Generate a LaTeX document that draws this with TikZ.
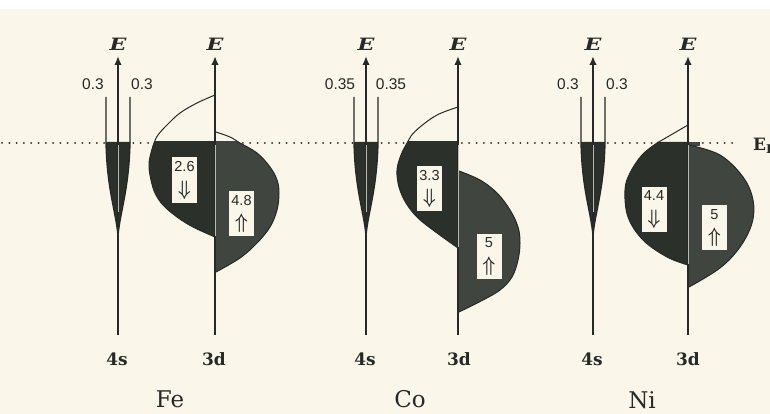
\documentclass[tikz,border=0pt]{standalone}
\usepackage{amsmath}
\usepackage{fontspec}
\usepackage{graphicx}
\usetikzlibrary{arrows.meta}
\newfontfamily\numfont{Liberation Sans}
\newfontfamily\serfont{DejaVu Serif}
\newfontfamily\efont[FakeStretch=1.3]{DejaVu Serif}
\definecolor{bg}{HTML}{FAF7EA}
\definecolor{ink}{HTML}{262925}
\definecolor{dn}{HTML}{2C302B}
\definecolor{up}{HTML}{41453F}
\definecolor{axlight}{HTML}{B9BBB2}
\begin{document}
\begin{tikzpicture}[x=1pt,y=-1pt,
  axis/.style={draw=ink,line width=1.8pt,-{Latex[length=9pt,width=7.5pt]}},
  wall/.style={draw=ink,line width=1.3pt},
  outline/.style={draw=ink,line width=1pt},
  elabel/.style={font=\efont\fontsize{17}{17}\selectfont\bfseries\itshape,text=ink,inner sep=0pt},
  numlabel/.style={font=\numfont\fontsize{15.5}{16}\selectfont,text=ink,inner sep=0pt},
  orblabel/.style={font=\serfont\fontsize{17}{17}\selectfont\bfseries,text=ink,inner sep=0pt},
  ellabel/.style={font=\serfont\fontsize{23}{23}\selectfont,text=ink,inner sep=0pt},
  spinbox/.style={fill=bg,inner sep=0pt,minimum width=25pt,minimum height=45pt},
  boxnum/.style={font=\numfont\fontsize{14.5}{14.5}\selectfont,text=ink,inner sep=0pt},
  boxarr/.style={font=\fontsize{14}{14}\selectfont,text=ink,inner sep=0pt},
  lightline/.style={draw=axlight,line width=0.7pt},
  dotline/.style={draw=ink,line width=2pt,dash pattern=on 0pt off 7.3pt,line cap=round}
]
\newcommand{\dnarr}{\scalebox{1.25}[1.45]{$\boldsymbol{\Downarrow}$}}
\newcommand{\uparr}{\scalebox{1.25}[1.45]{$\boldsymbol{\Uparrow}$}}
\useasboundingbox (0,0) rectangle (770,414);
\fill[bg] (0,0) rectangle (770,414);
\fill[white] (0,0) rectangle (770,9);

% Fermi level
\coordinate (dl) at (2,143);
\coordinate (dr) at (735,143);
\draw[dotline] (dl) -- (dr);
\node[font=\serfont\fontsize{17}{17}\selectfont\bfseries,text=ink,anchor=base west,inner sep=0pt] (ef) at (753,150) {E\raisebox{-3pt}{\fontsize{12}{12}\selectfont F}};

% ---------- 4s bands ----------
\foreach \x/\n in {118/fe,366/co,593/ni}{
  \fill[dn] (\x-12,142) -- (\x-12,143) .. controls (\x-11,190) and (\x-2,212) .. (\x,236)
     .. controls (\x+2,212) and (\x+11,190) .. (\x+12,143) -- (\x+12,142) -- cycle;
  \draw[wall] (\x-12,97) -- (\x-12,143) .. controls (\x-11,190) and (\x-2,212) .. (\x,236);
  \draw[wall] (\x+12,97) -- (\x+12,143) .. controls (\x+11,190) and (\x+2,212) .. (\x,236);
}

% ---------- Fe 3d ----------
\def\fedn{(215,95) (197,103) (180,113) (167,125) (158,135) (154,143) (150,157) (149,167) (151,180) (155,193) (163,205) (177,217) (193,227) (215,237)}
\def\feup{(216,132) (230,137) (240,143) (257,153) (270,167) (277,180) (279,193) (277,210) (270,227) (257,243) (240,258) (216,272)}
\fill[bg] plot[smooth,tension=0.6] coordinates {\fedn} -- cycle;
\fill[bg] plot[smooth,tension=0.6] coordinates {\feup} -- cycle;
\begin{scope}
  \clip (100,142) rectangle (300,400);
  \fill[dn] plot[smooth,tension=0.6] coordinates {\fedn} -- cycle;
  \fill[up] plot[smooth,tension=0.6] coordinates {\feup} -- cycle;
\end{scope}
\draw[outline] plot[smooth,tension=0.6] coordinates {\fedn};
\draw[outline] plot[smooth,tension=0.6] coordinates {\feup};

% ---------- Co 3d ----------
\def\codn{(458,107) (437,115) (420,127) (411,136) (407,143) (401,155) (397,170) (399,187) (406,203) (418,218) (437,233) (458,248)}
\def\coup{(459,171) (480,180) (497,193) (510,210) (518,227) (520,243) (518,260) (512,277) (500,290) (483,300) (459,312)}
\fill[bg] plot[smooth,tension=0.6] coordinates {\codn} -- cycle;
\begin{scope}
  \clip (350,142) rectangle (560,400);
  \fill[dn] plot[smooth,tension=0.6] coordinates {\codn} -- cycle;
  \fill[up] plot[smooth,tension=0.6] coordinates {\coup} -- cycle;
\end{scope}
\draw[outline] plot[smooth,tension=0.6] coordinates {\codn};
\draw[outline] plot[smooth,tension=0.6] coordinates {\coup};

% ---------- Ni 3d ----------
\def\nidn{(642,155) (630,173) (625,190) (628,217) (643,240) (667,257) (688,265)}
\def\niup{(689,145) (720,155) (743,177) (753,200) (752,223) (740,247) (720,268) (689,287)}
\fill[bg] (688,125) -- (657,143) -- (688,143) -- cycle;
\fill[dn] (688,142) -- (657,142) -- (657,143) -- plot[smooth,tension=0.6] coordinates {(657,143) \nidn} -- cycle;
\fill[up] plot[smooth,tension=0.6] coordinates {\niup} -- cycle;
\fill[up] (688,142) rectangle (700,146);
\draw[outline] (688,125) -- (657,143);
\draw[outline] plot[smooth,tension=0.6] coordinates {(657,143) \nidn};
\draw[outline] plot[smooth,tension=0.6] coordinates {\niup};

% ---------- axes ----------
\foreach \x/\n in {118/fes,215/fed,366/cos,458/cod,593/nis,688/nid}{
  \coordinate (\n-b) at (\x,335);
  \coordinate (\n-t) at (\x,56);
  \draw[axis] (\n-b) -- (\n-t);
  \node[elabel] (\n-E) at (\x,44) {E};
}
% light axis lines inside the filled regions
\draw[lightline] (118,145) -- (118,212);
\draw[lightline] (215,145) -- (215,236);
\draw[lightline] (366,145) -- (366,212);
\draw[lightline] (458,145) -- (458,247);
\draw[lightline] (593,145) -- (593,212);
\draw[lightline] (688,145) -- (688,264);

% ---------- 4s width labels ----------
\node[numlabel] (fel) at (93,84) {0.3};
\node[numlabel] (fer) at (142,84) {0.3};
\node[numlabel] (col) at (340,84) {0.35};
\node[numlabel] (cor) at (391,84) {0.35};
\node[numlabel] (nil) at (568,84) {0.3};
\node[numlabel] (nir) at (617,84) {0.3};

% ---------- spin boxes ----------
\foreach \n/\x/\y/\v/\a in {fe-d/184.5/180/2.6/\dnarr, fe-u/241.5/213.5/4.8/\uparr,
    co-d/429.5/188.5/3.3/\dnarr, co-u/489/256/5/\uparr,
    ni-d/654/209/4.4/\dnarr, ni-u/714.5/227.5/5/\uparr}{
  \node[spinbox] (\n) at (\x,\y) {};
  \node[boxnum] (\n-v) at ([yshift=13pt]\n.center) {\v};
  \node[boxarr] (\n-a) at ([yshift=-10pt]\n.center) {\a};
}

% ---------- orbital / element labels ----------
\node[orblabel] (fe4s) at (117,359) {4s};
\node[orblabel] (fe3d) at (214,359) {3d};
\node[orblabel] (co4s) at (365,359) {4s};
\node[orblabel] (co3d) at (459,359) {3d};
\node[orblabel] (ni4s) at (592,359) {4s};
\node[orblabel] (ni3d) at (688,359) {3d};
\node[ellabel] (fe) at (170,399) {Fe};
\node[ellabel] (co) at (410,399) {Co};
\node[ellabel] (ni) at (642,400) {Ni};
\end{tikzpicture}
\end{document}
